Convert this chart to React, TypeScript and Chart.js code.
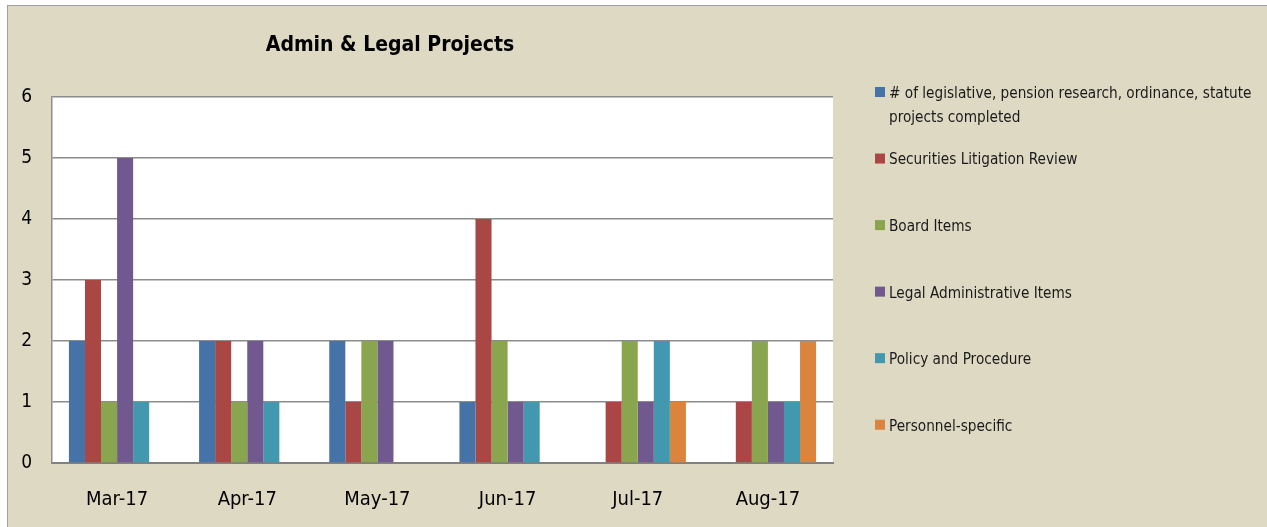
import React, { useEffect, useRef } from "react";
import { Chart, registerables } from "chart.js";

Chart.register(...registerables);

const categories = ["Mar-17", "Apr-17", "May-17", "Jun-17", "Jul-17", "Aug-17"];
const seriesNames = [
  ["# of legislative, pension research, ordinance, statute", "projects completed"],
  ["Securities Litigation Review"],
  ["Board Items"],
  ["Legal Administrative Items"],
  ["Policy and Procedure"],
  ["Personnel-specific"],
];
const legislative = [2, 2, 2, 1, 0, 0];
const securities = [3, 2, 1, 4, 1, 1];
const boardItems = [1, 1, 2, 2, 2, 2];
const legalAdmin = [5, 2, 2, 1, 1, 1];
const policy = [1, 1, 0, 1, 2, 1];
const personnel = [0, 0, 0, 0, 1, 2];
const seriesColors = ["#4572a7", "#aa4643", "#89a54e", "#71588f", "#4198af", "#db843d"];
const yMin = 0;
const yMax = 6;
const titleText = "Admin & Legal Projects";

const FONT = '"DejaVu Sans Condensed", "Liberation Sans", Arial, sans-serif';

const decorPlugin = {
  id: "decor",
  beforeDraw(chart: any) {
    const { ctx, chartArea } = chart;
    ctx.save();
    ctx.fillStyle = "#ffffff";
    ctx.fillRect(chartArea.left, chartArea.top, chartArea.right - chartArea.left, chartArea.bottom - chartArea.top);
    ctx.restore();
  },
  afterDraw(chart: any) {
    const { ctx, chartArea } = chart;
    ctx.save();
    // title
    ctx.font = `bold 21px ${FONT}`;
    ctx.fillStyle = "#000000";
    ctx.textAlign = "center";
    ctx.textBaseline = "middle";
    ctx.fillText(titleText, 390, 46);
    // legend
    const spacing = (chartArea.bottom - chartArea.top) / 5.5;
    chart.data.datasets.forEach((ds: any, i: number) => {
      const cy = chartArea.top - 5 + i * spacing;
      ctx.fillStyle = ds.backgroundColor;
      ctx.fillRect(875, cy - 5, 10, 10);
      ctx.fillStyle = "#1a1a1a";
      ctx.font = `15.2px ${FONT}`;
      ctx.textAlign = "left";
      ctx.textBaseline = "middle";
      const lines = seriesNames[i];
      lines.forEach((ln, j) => ctx.fillText(ln, 889, cy + 2 + j * 24));
    });
    ctx.restore();
  },
};

export default function App() {
  const ref = useRef<HTMLCanvasElement | null>(null);
  useEffect(() => {
    if (!ref.current) return;
    const values = [legislative, securities, boardItems, legalAdmin, policy, personnel];
    const chart = new Chart(ref.current, {
      type: "bar",
      data: {
        labels: categories,
        datasets: values.map((v, i) => ({
          label: seriesNames[i].join(" "),
          data: v,
          backgroundColor: seriesColors[i],
          borderWidth: 0,
          categoryPercentage: 0.74,
          barPercentage: 1.0,
        })),
      },
      options: {
        animation: false,
        responsive: false,
        maintainAspectRatio: false,
        layout: { padding: { left: 12, top: 97, right: 434, bottom: 14 } },
        plugins: {
          legend: { display: false },
          title: { display: false },
          tooltip: { enabled: false },
        },
        scales: {
          x: {
            grid: { display: false, drawTicks: false },
            border: { display: true, color: "#808080", width: 2 },
            ticks: { color: "#000000", font: { family: FONT, size: 20 }, padding: 25 },
            afterFit: (s: any) => { s.height = 50; },
          },
          y: {
            min: yMin,
            max: yMax,
            grid: { color: "#8c8c8c", lineWidth: 1.5, drawTicks: false },
            border: { display: true, color: "#8c8c8c", width: 1.5 },
            ticks: { stepSize: 1, color: "#000000", font: { family: FONT, size: 19 }, padding: 20 },
            afterFit: (s: any) => { s.width = 40; },
          },
        },
      },
      plugins: [decorPlugin],
    });
    return () => chart.destroy();
  }, []);

  return (
    <div style={{ position: "absolute", left: 0, top: 0, width: 1267, height: 527, background: "#ffffff", overflow: "hidden" }}>
      <div style={{ position: "absolute", left: 7, top: 5, width: 1300, height: 560, background: "#ddd9c3", border: "1px solid #a0a0a0" }} />
      <canvas ref={ref} width={1267} height={527} style={{ position: "absolute", left: 0, top: 0, width: 1267, height: 527 }} />
    </div>
  );
}
